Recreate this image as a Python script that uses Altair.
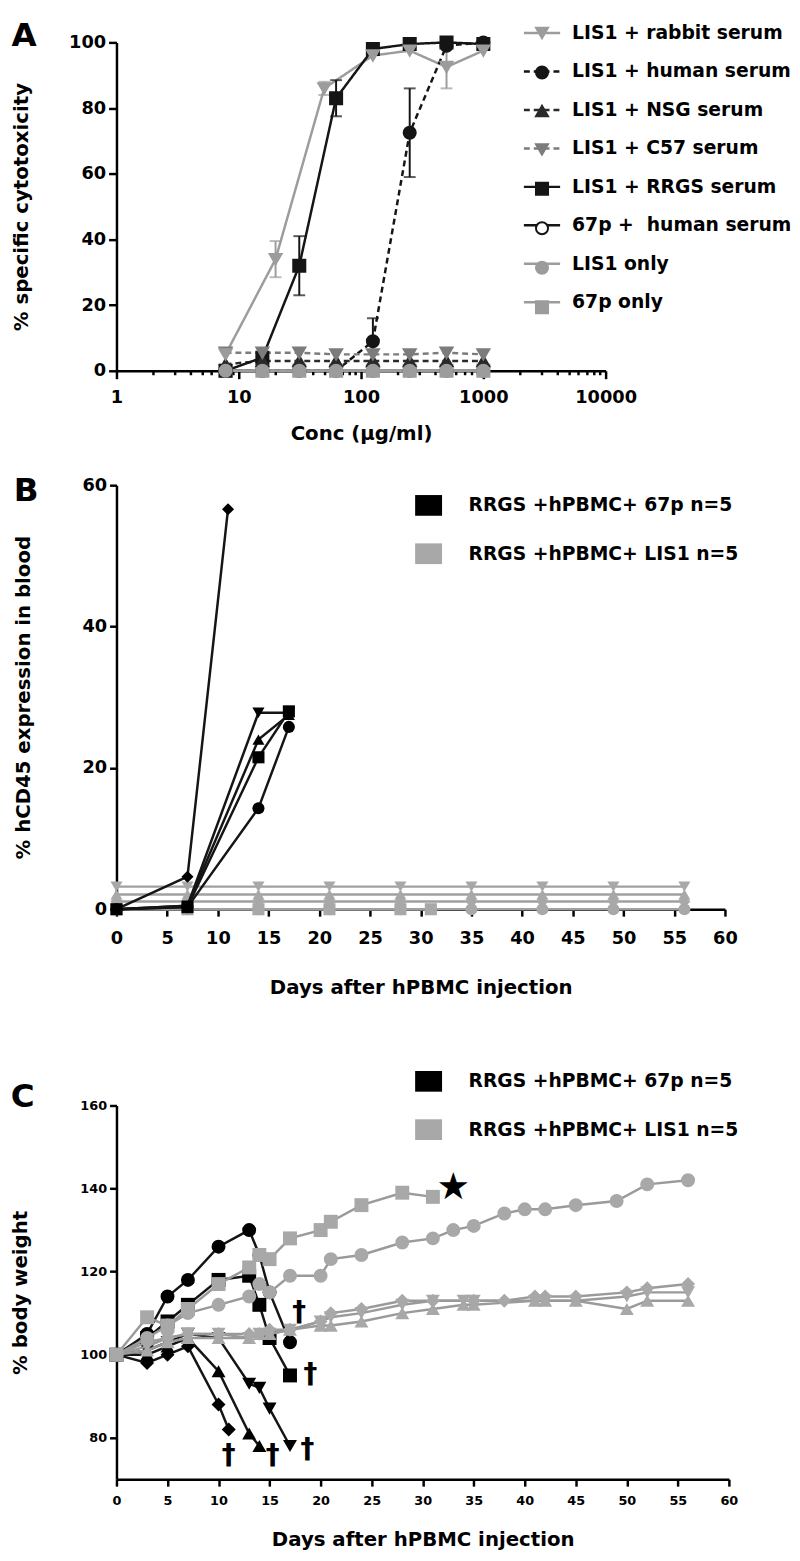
import altair as alt
import pandas as pd

FONT = "DejaVu Sans"
BLACK = "#151515"
GREY = "#9c9c9c"
MIDGREY = "#7c7c7c"
DARK = "#2a2a2a"
WHITE = "#ffffff"

# ---------------- Panel A data ----------------
series_A = ["LIS1 + rabbit serum", "LIS1 + human serum", "LIS1 + NSG serum",
            "LIS1 + C57 serum", "LIS1 + RRGS serum", "67p +\u00a0 human serum",
            "LIS1 only", "67p only"]
conc_std = [7.8, 15.6, 31.25, 62.5, 125, 250, 500, 1000]
conc_rabbit = [7.8, 20, 50, 125, 250, 500, 1000]
rabbit = [5, 34, 86, 96, 97.5, 92.5, 97.5]
rabbit_sd = [0, 5.5, 2, 0, 0, 6.5, 0]
human = [0, 0, 0, 0, 9, 72.5, 99, 100]
human_sd = [0, 0, 0, 0, 7, 13.5, 0, 0]
nsg = [2, 3, 3, 3, 3, 3, 3, 3]
c57 = [5.5, 5.5, 5.5, 5, 5, 5, 5.5, 5]
rrgs = [0, 4, 32, 83, 98, 99.5, 100, 99.5]
rrgs_sd = [0, 0, 9, 5.5, 0, 0, 0, 0]
p67_human = [0, 0, 0, 0, 0, 0, 0, 0]
lis1_only = [0, 0, 0, 0, 0, 0, 0, 0]
p67_only = [0, 0, 0, 0, 0, 0, 0, 0]

line_colors_A = [GREY, BLACK, DARK, MIDGREY, BLACK, BLACK, GREY, GREY]
fill_colors_A = [GREY, BLACK, DARK, MIDGREY, BLACK, WHITE, GREY, GREY]
stroke_colors_A = [GREY, BLACK, DARK, MIDGREY, BLACK, BLACK, GREY, GREY]
shapes_A = ["triangle-down", "circle", "triangle-up", "triangle-down", "square",
            "circle", "circle", "square"]
dashes_A = [[1, 0], [6, 4], [6, 4], [6, 4], [1, 0], [1, 0], [1, 0], [1, 0]]
zorder_A = [6, 1, 4, 5, 3, 0, 7, 2]

x_ticks_A = [1, 2, 3, 4, 5, 6, 7, 8, 9, 10, 20, 30, 40, 50, 60, 70, 80, 90,
             100, 200, 300, 400, 500, 600, 700, 800, 900,
             1000, 2000, 3000, 4000, 5000, 6000, 7000, 8000, 9000, 10000]
y_ticks_A = [0, 20, 40, 60, 80, 100]

# ---------------- Panel B data ----------------
groups = ["RRGS +hPBMC+ 67p n=5", "RRGS +hPBMC+ LIS1 n=5"]
group_legend_colors = ["#000000", "#a8a8a8"]
marker_names = ["circle", "square", "up", "down", "diamond"]
marker_shapes = ["circle", "square", "triangle-up", "triangle-down", "diamond"]

b67_circle_day = [0, 7, 14, 17]
b67_circle = [0, 0.3, 14.3, 25.8]
b67_square_day = [0, 7, 14, 17]
b67_square = [0, 0.3, 21.5, 28]
b67_up_day = [0, 7, 14, 17]
b67_up = [0, 0.5, 24, 27.5]
b67_down_day = [0, 7, 14, 17]
b67_down = [0, 0.5, 27.8, 27.8]
b67_diamond_day = [0, 7, 11]
b67_diamond = [0, 4.6, 56.6]

bL_day = [0, 7, 14, 21, 28, 35, 42, 49, 56]
bL_down = [3.2, 3.2, 3.2, 3.2, 3.2, 3.2, 3.2, 3.2, 3.2]
bL_up = [2.1, 2.1, 2.1, 2.1, 2.1, 2.1, 2.1, 2.1, 2.1]
bL_diamond = [1.1, 1.1, 1.1, 1.1, 1.1, 1.1, 1.1, 1.1, 1.1]
bL_circle = [0, 0, 0, 0, 0, 0, 0, 0, 0]
bL_square_day = [0, 7, 14, 21, 28, 31]
bL_square = [0, 0, 0, 0, 0, 0]

# ---------------- Panel C data ----------------
c67_circle_day = [0, 3, 5, 7, 10, 13, 14, 15, 17]
c67_circle = [100, 105, 114, 118, 126, 130, 124, 115, 103]
c67_square_day = [0, 3, 5, 7, 10, 13, 14, 15, 17]
c67_square = [100, 104, 108, 112, 118, 119, 112, 104, 95]
c67_down_day = [0, 3, 5, 7, 10, 13, 14, 15, 17]
c67_down = [100, 101, 103, 105, 104, 93, 92, 87, 78]
c67_up_day = [0, 3, 5, 7, 10, 13, 14]
c67_up = [100, 100, 102, 104, 96, 81, 78]
c67_diamond_day = [0, 3, 5, 7, 10, 11]
c67_diamond = [100, 98, 100, 102, 88, 82]

cL_square_day = [0, 3, 5, 7, 10, 13, 14, 15, 17, 20, 21, 24, 28, 31]
cL_square = [100, 109, 107, 111, 117, 121, 124, 123, 128, 130, 132, 136, 139, 138]
cL_circle_day = [0, 3, 5, 7, 10, 13, 14, 15, 17, 20, 21, 24, 28, 31, 33, 35,
                 38, 40, 42, 45, 49, 52, 56]
cL_circle = [100, 104, 107, 110, 112, 114, 117, 115, 119, 119, 123, 124, 127,
             128, 130, 131, 134, 135, 135, 136, 137, 141, 142]
cL_diamond_day = [0, 3, 5, 7, 10, 13, 14, 15, 17, 20, 21, 24, 28, 31, 35, 38,
                  41, 42, 45, 50, 52, 56]
cL_diamond = [100, 103, 104, 105, 105, 105, 105, 106, 106, 108, 110, 111, 113,
              113, 113, 113, 114, 114, 114, 115, 116, 117]
cL_down_day = [0, 3, 5, 7, 10, 13, 14, 15, 17, 20, 21, 24, 28, 31, 34, 35, 41,
               42, 45, 50, 52, 56]
cL_down = [100, 102, 104, 105, 105, 104, 105, 105, 106, 108, 109, 110, 112,
           113, 113, 113, 113, 113, 113, 114, 115, 115]
cL_up_day = [0, 3, 5, 7, 10, 13, 14, 15, 17, 20, 21, 24, 28, 31, 34, 35, 41,
             42, 45, 50, 52, 56]
cL_up = [100, 101, 103, 104, 104, 104, 105, 105, 106, 107, 107, 108, 110, 111,
         112, 112, 113, 113, 113, 111, 113, 113]

dagger_day = [17.9, 19, 18.7, 11, 15.3]
dagger_val = [110, 95, 77, 75.5, 75.5]
star_day = [33]
star_val = [140]

day_ticks = [0, 5, 10, 15, 20, 25, 30, 35, 40, 45, 50, 55, 60]
y_ticks_B = [0, 20, 40, 60]
y_ticks_C = [80, 100, 120, 140, 160]


def axis(**kw):
    base = dict(domainColor="black", domainWidth=2.5, tickColor="black",
                tickWidth=2.5, tickSize=7, labelFont=FONT, labelFontWeight="bold",
                labelColor="black", titleFont=FONT, titleFontWeight="bold",
                titleColor="black", grid=False, labelPadding=3, labelFlush=False,
                labelOverlap=False)
    base.update(kw)
    return alt.Axis(**base)


def legend(**kw):
    base = dict(title=None, orient="none", labelFont=FONT, labelFontSize=19,
                labelFontWeight="bold", labelColor="black", labelLimit=500,
                symbolOpacity=1)
    base.update(kw)
    return alt.Legend(**base)


def ptitle(letter, offset):
    return alt.TitleParams(letter, anchor="start", frame="bounds", font=FONT,
                           fontSize=33, fontWeight="bold", color="black",
                           offset=offset)


# ---------------- Build panel A ----------------
# marker legend uses its own (invisible-suffix) names so it is not merged with the line legend
series_A_pts = [s + "\u200b" for s in series_A]
rowsA = []
rowsErr = []


def addA(k, xs, ys, sds=None):
    for i, (xv, yv) in enumerate(zip(xs, ys)):
        rowsA.append({"series": series_A[k], "s2": series_A_pts[k], "conc": xv,
                      "val": yv, "z": zorder_A[k]})
        if sds is not None and sds[i] > 0:
            rowsErr.append({"series": series_A[k], "conc": xv, "lo": yv - sds[i],
                            "hi": yv + sds[i]})


addA(0, conc_rabbit, rabbit, rabbit_sd)
addA(1, conc_std, human, human_sd)
addA(2, conc_std, nsg)
addA(3, conc_std, c57)
addA(4, conc_std, rrgs, rrgs_sd)
addA(5, conc_std, p67_human)
addA(6, conc_std, lis1_only)
addA(7, conc_std, p67_only)
dfA = pd.DataFrame(rowsA)
dfErr = pd.DataFrame(rowsErr)

leg_common = dict(legendX=422, legendY=-19, symbolSize=150, labelOffset=21, rowPadding=19)
legA_line = legend(symbolType="M-3,0H3", symbolStrokeWidth=2.5, **leg_common)
legA_pt = legend(labelExpr="''", symbolStrokeWidth=2, **leg_common)

xA = alt.X("conc:Q", scale=alt.Scale(type="log", domain=[1, 10000]),
           axis=axis(values=x_ticks_A, format="d", labelFontSize=18, labelPadding=10,
                     labelExpr="indexof([1,10,100,1000,10000], datum.value) >= 0 ? datum.label : ''",
                     tickSize={"condition": {"test": "indexof([1,10,100,1000,10000], datum.value) >= 0",
                                             "value": 8}, "value": 4},
                     title="Conc (µg/ml)", titleFontSize=20, titlePadding=18))
yA = alt.Y("val:Q", scale=alt.Scale(domain=[0, 100]),
           axis=axis(values=y_ticks_A, labelFontSize=18, tickSize=8,
                     title="% specific cytotoxicity", titleFontSize=20,
                     titlePadding=38))
colA = alt.Color("series:N", scale=alt.Scale(domain=series_A, range=line_colors_A),
                 legend=legA_line)
dashA = alt.StrokeDash("series:N", scale=alt.Scale(domain=series_A, range=dashes_A),
                       legend=legA_line)

linesA = alt.Chart(dfA).mark_line(strokeWidth=2.5).encode(
    x=xA, y=yA, color=colA, strokeDash=dashA)
errA = alt.Chart(dfErr).mark_rule(strokeWidth=2).encode(
    x="conc:Q", y="lo:Q", y2="hi:Q", color=colA)
capLo = alt.Chart(dfErr).mark_tick(orient="horizontal", size=12, thickness=2).encode(
    x="conc:Q", y="lo:Q", color=colA)
capHi = alt.Chart(dfErr).mark_tick(orient="horizontal", size=12, thickness=2).encode(
    x="conc:Q", y="hi:Q", color=colA)
ptsA = alt.Chart(dfA).mark_point(filled=True, size=150, opacity=1, strokeWidth=2).encode(
    x="conc:Q", y="val:Q",
    shape=alt.Shape("s2:N", scale=alt.Scale(domain=series_A_pts, range=shapes_A), legend=legA_pt),
    fill=alt.Fill("s2:N", scale=alt.Scale(domain=series_A_pts, range=fill_colors_A), legend=legA_pt),
    stroke=alt.Stroke("s2:N", scale=alt.Scale(domain=series_A_pts, range=stroke_colors_A), legend=legA_pt),
    order=alt.Order("z:Q"))

panelA = alt.layer(linesA, errA, capLo, capHi, ptsA).properties(
    width=496, height=333, title=ptitle("A", -30))


# ---------------- helpers for B / C ----------------
def mice_frame(group, entries):
    rows = []
    for mk, days, vals in entries:
        for d, v in zip(days, vals):
            rows.append({"group": group, "mouse": group + mk, "mk": mk, "day": d, "val": v})
    return pd.DataFrame(rows)


def mice_layers(df, xenc, yenc, leg, size, line_color):
    line = alt.Chart(df).mark_line(strokeWidth=2.5, color=line_color).encode(
        x=xenc, y=yenc, detail="mouse:N")
    pts = alt.Chart(df).mark_point(filled=True, size=size, opacity=1).encode(
        x="day:Q", y="val:Q",
        fill=alt.Fill("group:N", scale=alt.Scale(domain=groups, range=group_legend_colors), legend=leg),
        shape=alt.Shape("mk:N", scale=alt.Scale(domain=marker_names, range=marker_shapes), legend=None))
    return [line, pts]


# ---------------- Build panel B ----------------
dfB67 = mice_frame(groups[0], [("circle", b67_circle_day, b67_circle),
                               ("square", b67_square_day, b67_square),
                               ("up", b67_up_day, b67_up),
                               ("down", b67_down_day, b67_down),
                               ("diamond", b67_diamond_day, b67_diamond)])
dfBL = mice_frame(groups[1], [("circle", bL_day, bL_circle),
                              ("square", bL_square_day, bL_square),
                              ("diamond", bL_day, bL_diamond),
                              ("up", bL_day, bL_up),
                              ("down", bL_day, bL_down)])

legB = legend(symbolType="M-1.3,-1H1.3V1H-1.3Z", symbolSize=441, symbolStrokeWidth=0,
              legendX=306, legendY=10, rowPadding=28, labelOffset=30)
xB = alt.X("day:Q", scale=alt.Scale(domain=[0, 60]),
           axis=axis(values=day_ticks, labelFontSize=18, labelPadding=14,
                     title="Days after hPBMC injection", titleFontSize=20, titlePadding=30))
yB = alt.Y("val:Q", scale=alt.Scale(domain=[0, 60]),
           axis=axis(values=y_ticks_B, labelFontSize=18, title="% hCD45 expression in blood",
                     titleFontSize=20, titlePadding=49))

panelB = alt.layer(*mice_layers(dfBL, xB, yB, legB, 150, "#a0a0a0"),
                   *mice_layers(dfB67, xB, yB, legB, 150, BLACK)).properties(
    width=617, height=430, title=ptitle("B", -32))

# ---------------- Build panel C ----------------
dfC67 = mice_frame(groups[0], [("circle", c67_circle_day, c67_circle),
                               ("square", c67_square_day, c67_square),
                               ("up", c67_up_day, c67_up),
                               ("down", c67_down_day, c67_down),
                               ("diamond", c67_diamond_day, c67_diamond)])
dfCL = mice_frame(groups[1], [("circle", cL_circle_day, cL_circle),
                              ("square", cL_square_day, cL_square),
                              ("diamond", cL_diamond_day, cL_diamond),
                              ("up", cL_up_day, cL_up),
                              ("down", cL_down_day, cL_down)])
dfDag = pd.DataFrame({"day": dagger_day, "val": dagger_val})
dfStar = pd.DataFrame({"day": star_day, "val": star_val})

legC = legend(symbolType="M-1.3,-1H1.3V1H-1.3Z", symbolSize=441, symbolStrokeWidth=0,
              legendX=306, legendY=-35, rowPadding=28, labelOffset=30)
xC = alt.X("day:Q", scale=alt.Scale(domain=[0, 60]),
           axis=axis(values=day_ticks, labelFontSize=13, labelPadding=9,
                     title="Days after hPBMC injection", titleFontSize=20, titlePadding=22))
yC = alt.Y("val:Q", scale=alt.Scale(domain=[72, 160]),
           axis=axis(values=y_ticks_C, labelFontSize=13, title="% body weight",
                     titleFontSize=20, titlePadding=50))

daggers = alt.Chart(dfDag).mark_text(text="†", font=FONT, fontSize=28, fontWeight="bold",
                                     color="black").encode(x="day:Q", y="val:Q")
star = alt.Chart(dfStar).mark_text(text="★", font=FONT, fontSize=38,
                                   color="black").encode(x="day:Q", y="val:Q")

panelC = alt.layer(*mice_layers(dfC67, xC, yC, legC, 200, BLACK),
                   *mice_layers(dfCL, xC, yC, legC, 200, "#9a9a9a"),
                   daggers, star).properties(
    width=621, height=379, title=ptitle("C", -44))

res = dict(color="independent", fill="independent", stroke="independent",
           shape="independent", strokeDash="independent")
top = alt.vconcat(panelA, panelB, spacing=32).resolve_scale(**res)
chart = alt.vconcat(top, panelC, spacing=75).resolve_scale(**res).properties(
    padding={"left": 2, "top": 2, "right": 0, "bottom": 0}
).configure_view(stroke=None).configure_title(baseline="top")

chart.save("out.html", embed_options={"renderer": "svg", "actions": False})
